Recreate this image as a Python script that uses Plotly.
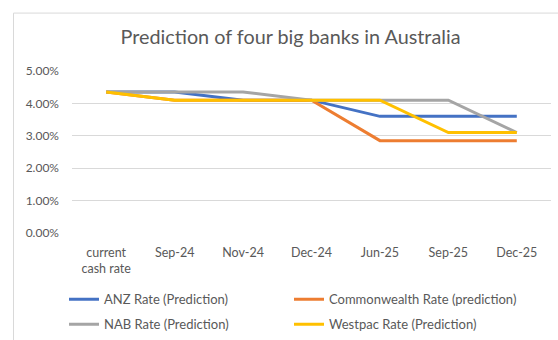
import plotly.graph_objects as go

categories = ["current<br>cash rate", "Sep-24", "Nov-24", "Dec-24", "Jun-25", "Sep-25", "Dec-25"]
anz = [4.35, 4.35, 4.10, 4.10, 3.60, 3.60, 3.60]
commonwealth = [4.35, 4.10, 4.10, 4.10, 2.85, 2.85, 2.85]
nab = [4.35, 4.35, 4.35, 4.10, 4.10, 4.10, 3.10]
westpac = [4.35, 4.10, 4.10, 4.10, 4.10, 3.10, 3.10]

W, H = 558, 340
PL, PR, PT, PB = 72, 551, 70.5, 233.3

# (name, values, colour, legend id, legend x px, legend y px)
series = [
    ("ANZ Rate (Prediction)", anz, "#4472C4", "legend", 64, 299.3),
    ("Commonwealth Rate (prediction)", commonwealth, "#ED7D31", "legend2", 289, 299.3),
    ("NAB Rate (Prediction)", nab, "#A5A5A5", "legend3", 64, 324.3),
    ("Westpac Rate (Prediction)", westpac, "#FFC000", "legend4", 289, 324.3),
]

FONT = "Lato"
GREY = "#595959"

fig = go.Figure()
legends = {}
for name, vals, color, lg, lx, ly in series:
    fig.add_trace(go.Scatter(x=categories, y=vals, name=name, mode="lines",
                             line=dict(color=color, width=3), legend=lg))
    legends[lg] = dict(orientation="h", xanchor="left", yanchor="middle",
                       xref="container", yref="container",
                       x=lx / W, y=1 - ly / H,
                       font=dict(family=FONT, size=13, color=GREY),
                       bgcolor="rgba(0,0,0,0)", itemclick=False)

fig.update_layout(
    width=W, height=H,
    margin=dict(l=PL, r=W - PR, t=PT, b=H - PB, autoexpand=False),
    paper_bgcolor="white", plot_bgcolor="white",
    font=dict(family=FONT, color=GREY),
    title=dict(text="Prediction of four big banks in Australia",
               x=290.5 / W, xanchor="center", y=1 - 37 / H, yanchor="middle",
               font=dict(family=FONT, size=19.8, color=GREY)),
    xaxis=dict(type="category", showgrid=False, showline=False, ticks="",
               tickfont=dict(family=FONT, size=12.5, color=GREY),
               range=[-0.5, 6.5], ticklabelstandoff=10),
    yaxis=dict(range=[0, 5], dtick=1, tickformat=".2f", ticksuffix="%",
               showgrid=True, gridcolor="#D9D9D9", gridwidth=1,
               zeroline=False, showline=False, ticks="",
               tickfont=dict(family=FONT, size=12, color=GREY),
               ticklabelstandoff=12),
    showlegend=True,
    **legends,
)

pw, ph = PR - PL, PB - PT
fig.add_shape(type="rect", xref="paper", yref="paper",
              x0=(13.5 - PL) / pw, x1=1.5, y0=-2, y1=(PB - 12.3) / ph,
              line=dict(color="#D9D9D9", width=1), fillcolor="rgba(0,0,0,0)",
              layer="below")

fig.write_html("out.html")
